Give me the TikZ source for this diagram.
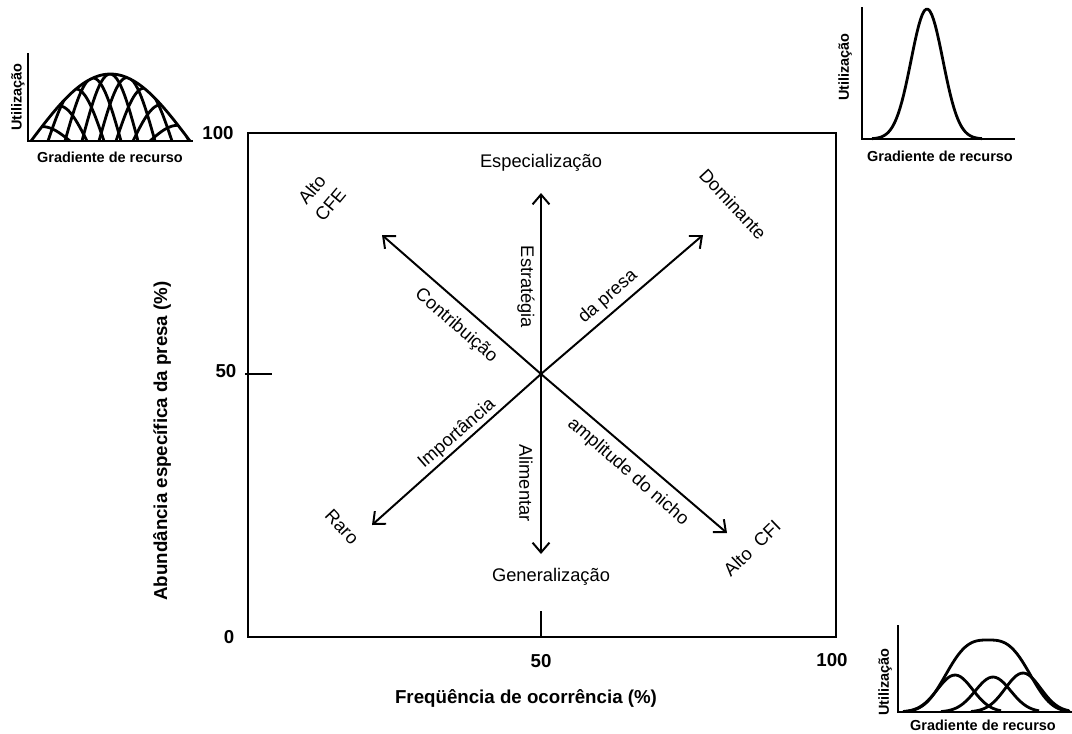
\documentclass[tikz,border=0pt]{standalone}
\usepackage{fontspec}
\setmainfont{Liberation Sans}
\usepackage{tikz}
\usetikzlibrary{arrows.meta}
\newcommand{\lblfont}{\fontsize{13}{15}\selectfont}
\newcommand{\axfont}{\fontsize{13.3}{15}\selectfont\bfseries}
\newcommand{\insfont}{\fontsize{10.3}{12}\selectfont\bfseries}
\tikzset{
  frame/.style={line width=2pt},
  tickmark/.style={line width=1pt},
  axlbl/.style={font=\axfont, inner sep=1pt},
  lbl/.style={font=\lblfont, inner sep=1pt},
  arr/.style={-{Straight Barb[length=7pt,width=12pt,line width=1.4pt]}, line width=1.4pt},
  insaxis/.style={line width=2pt},
  inscurve/.style={line width=2pt, line join=round},
  inslbl/.style={font=\insfont, inner sep=1pt},
}

\begin{document}
\begin{tikzpicture}[x=0.025cm, y=-0.025cm]
  \useasboundingbox (0,0) rectangle (1072,733);

  %% ── frame and ticks ──
  \draw[frame] (248,133) rectangle (836,637);
  \draw[tickmark] (245,374) -- (272,374);
  \draw[tickmark] (541,637) -- (541,611);
  \node[axlbl] (ytop) at (218,133) {100};
  \node[axlbl] (ymid) at (226,371) {50};
  \node[axlbl] (ybot) at (229,637) {0};
  \node[axlbl] (xmid) at (541,661) {50};
  \node[axlbl] (xtop) at (832,660) {100};
  \node[axlbl] (xtitle) at (526,698) {Freqüência de ocorrência (\%)};
  \node[axlbl, rotate=90] (ytitle) at (162,441) {Abundância específica da presa (\%)};

  %% ── arrows from the centre ──
  \coordinate (ctr) at (541,374);
  \coordinate (tipN) at (541,193);
  \coordinate (tipS) at (541,554);
  \coordinate (tipNW) at (382,235);
  \coordinate (tipNE) at (703,235);
  \coordinate (tipSW) at (372,525);
  \coordinate (tipSE) at (727,533);
  \foreach \t in {tipN,tipS,tipNW,tipNE,tipSW,tipSE}{
    \draw[arr] (ctr) -- (\t);
  }

  %% ── end labels ──
  \node[lbl] (espec) at (541,163) {Especialização};
  \node[lbl] (gener) at (551,577) {Generalização};
  \node[lbl, rotate=50, align=center] (cfe) at (321,197) {Alto\\[2pt]CFE};
  \node[lbl, rotate=-47] (domin) at (733,204) {Dominante};
  \node[lbl, rotate=-47] (raro) at (342,527) {Raro};
  \node[lbl, rotate=44] (cfi) at (752,548) {Alto\ \ CFI};

  %% ── labels along the arrows ──
  \node[lbl, rotate=-90] (estr) at (526,287) {Estratégia};
  \node[lbl, rotate=-90] (alim) at (526,483) {Alimentar};
  \node[lbl, rotate=-41] (contr) at (456,326) {Contribuição};
  \node[lbl, rotate=41] (dapresa) at (608,297) {da presa};
  \node[lbl, rotate=41] (import) at (457,434) {Importância};
  \node[lbl, rotate=-41] (ampl) at (628,472) {amplitude do nicho};

  %% ── inset: many narrow niches ──
  \begin{scope}
    \clip plot[domain=31:190, samples=60] (\x,{141-67*sin((\x-31)/159*180)}) -- cycle;
    \foreach \c in {42,59,76,93,110,127,144,161,178}{
      \pgfmathsetmacro{\hc}{67*sin((\c-31)/159*180)}
      \pgfmathsetmacro{\da}{\c-28}
      \pgfmathsetmacro{\db}{\c+28}
      \draw[inscurve] plot[domain=\da:\db, samples=30] (\x,{141-\hc*sin((\x-\da)/56*180)});
    }
  \end{scope}
  \draw[inscurve] plot[domain=31:190, samples=60] (\x,{141-67*sin((\x-31)/159*180)});
  \draw[insaxis] (28,53) -- (28,141) -- (193,141);
  \node[inslbl, rotate=90] (utilA) at (18,97) {Utilização};
  \node[inslbl] (gradA) at (110,157) {Gradiente de recurso};

  %% ── inset: one specialised niche ──
  \draw[inscurve] plot[domain=872:982, samples=60] (\x,{139-130*exp(-((\x-927)/22.5)^2)});
  \draw[insaxis] (862,7) -- (862,139) -- (1015,139);
  \node[inslbl, rotate=90] (utilB) at (845,67) {Utilização};
  \node[inslbl] (gradB) at (940,156) {Gradiente de recurso};

  %% ── inset: few broad niches ──
  \draw[inscurve] plot[domain=905:1070, samples=70] (\x,{712-72*exp(-(abs(\x-988)/48.6)^3)});
  \foreach \c/\h in {955/37,993/35,1023/39}{
    \pgfmathsetmacro{\da}{\c-52}
    \pgfmathsetmacro{\db}{\c+46}
    \draw[inscurve] plot[domain=\da:\db, samples=40] (\x,{712-\h*exp(-((\x-\c)/25)^2)});
  }
  \draw[insaxis] (898,625) -- (898,712) -- (1072,712);
  \node[inslbl, rotate=90] (utilC) at (885,682) {Utilização};
  \node[inslbl] (gradC) at (983,725) {Gradiente de recurso};
\end{tikzpicture}
\end{document}
